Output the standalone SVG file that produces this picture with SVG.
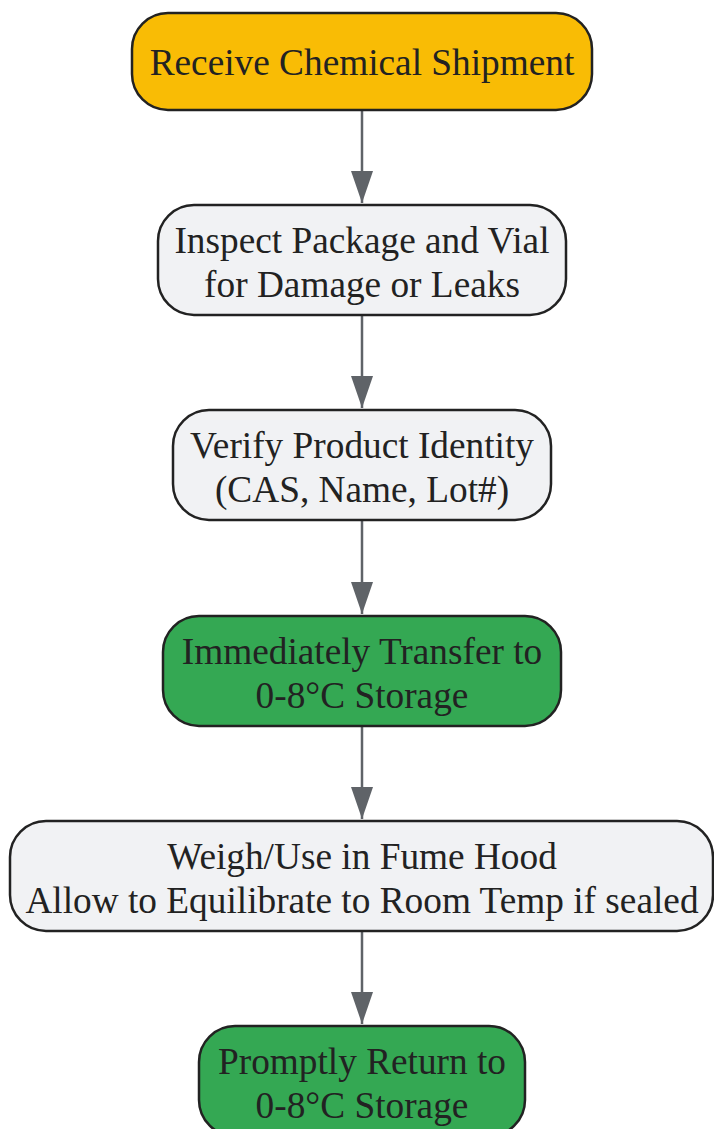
<svg xmlns="http://www.w3.org/2000/svg" width="714" height="1129" viewBox="0 0 714 1129">
<style>
.n rect{stroke:#222;stroke-width:2.5}
.n text{font-family:"Liberation Serif","Times New Roman",serif;font-size:37.3px;fill:#222;text-anchor:middle}
.amber{fill:#f9bc05}
.grey{fill:#f1f2f4}
.green{fill:#34a853}
.e line{stroke:#5f6368;stroke-width:2.5}
</style>
<defs>
<marker id="ah" markerWidth="32" markerHeight="22" refX="32" refY="11" orient="auto" markerUnits="userSpaceOnUse" viewBox="0 0 32 22">
<path d="M0 0 L32 11 L0 22 Z" fill="#5f6368"/>
</marker>
</defs>
<g class="e" id="edges">
<line x1="362" y1="110" x2="362" y2="203" marker-end="url(#ah)"/>
<line x1="362" y1="315" x2="362" y2="408" marker-end="url(#ah)"/>
<line x1="362" y1="520" x2="362" y2="614" marker-end="url(#ah)"/>
<line x1="362" y1="726" x2="362" y2="819" marker-end="url(#ah)"/>
<line x1="362" y1="931" x2="362" y2="1024" marker-end="url(#ah)"/>
</g>
<g class="n" id="n1">
<rect class="amber" x="132" y="13" width="460" height="97" rx="36"/>
<text x="362" y="75">Receive Chemical Shipment</text>
</g>
<g class="n" id="n2">
<rect class="grey" x="158" y="205" width="408" height="110" rx="36"/>
<text x="362" y="253">Inspect Package and Vial</text>
<text x="362" y="297">for Damage or Leaks</text>
</g>
<g class="n" id="n3">
<rect class="grey" x="173" y="410" width="378" height="110" rx="36"/>
<text x="362" y="458">Verify Product Identity</text>
<text x="362" y="502">(CAS, Name, Lot#)</text>
</g>
<g class="n" id="n4">
<rect class="green" x="163" y="616" width="398" height="110" rx="36"/>
<text x="362" y="664">Immediately Transfer to</text>
<text x="362" y="708">0-8°C Storage</text>
</g>
<g class="n" id="n5">
<rect class="grey" x="10" y="821" width="703" height="110" rx="36"/>
<text x="362" y="869">Weigh/Use in Fume Hood</text>
<text x="362" y="913">Allow to Equilibrate to Room Temp if sealed</text>
</g>
<g class="n" id="n6">
<rect class="green" x="199" y="1026" width="326" height="110" rx="36"/>
<text x="362" y="1074">Promptly Return to</text>
<text x="362" y="1118">0-8°C Storage</text>
</g>
</svg>
